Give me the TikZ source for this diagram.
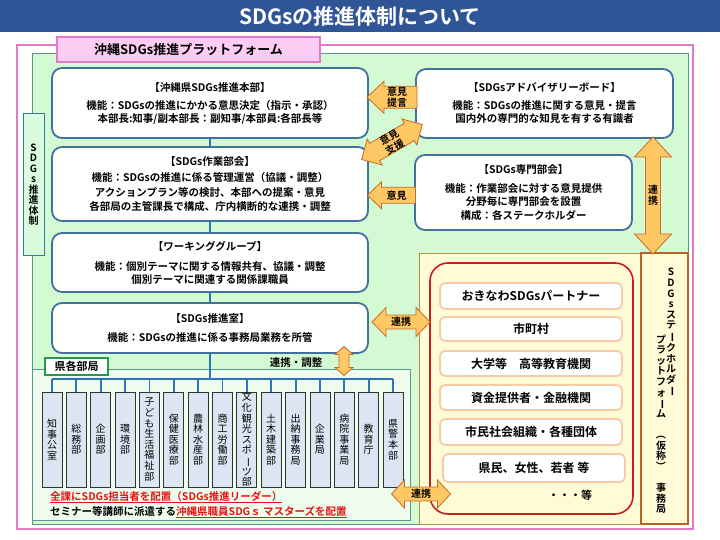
\documentclass[tikz,border=0pt]{standalone}
\usepackage{graphicx}
\usepackage{fontspec}
\setmainfont{Noto Sans CJK JP}[BoldFont={Noto Sans CJK JP Bold}]
\usetikzlibrary{calc}
\definecolor{titleblue}{RGB}{47,85,151}
\definecolor{pinkline}{RGB}{226,122,204}
\definecolor{pinkfill}{RGB}{252,204,242}
\definecolor{bggreen}{RGB}{212,250,212}
\definecolor{bgline}{RGB}{90,150,140}
\definecolor{sidegreen}{RGB}{218,252,222}
\definecolor{sideline}{RGB}{60,120,150}
\definecolor{boxblue}{RGB}{65,113,156}
\definecolor{connblue}{RGB}{46,117,182}
\definecolor{deptfill}{RGB}{220,230,242}
\definecolor{deptarea}{RGB}{238,252,238}
\definecolor{labgreen}{RGB}{40,150,80}
\definecolor{arrfill}{RGB}{255,200,100}
\definecolor{arrline}{RGB}{196,110,40}
\definecolor{shfill}{RGB}{255,251,214}
\definecolor{shline}{RGB}{175,145,70}
\definecolor{brownline}{RGB}{180,100,40}
\definecolor{redline}{RGB}{200,30,30}
\definecolor{peach}{RGB}{246,203,168}
\definecolor{redtext}{RGB}{230,20,20}
\newcommand\vbar{\rotatebox[origin=c]{-90}{ー}}
\newcommand\vlp{\rotatebox[origin=c]{-90}{（}}
\newcommand\vrp{\rotatebox[origin=c]{-90}{）}}
\newcommand\sarrow[6]{\draw[blockarrow, shift={#1}, rotate=#2] (-#3/2,#5/2) -- (#3/2-#6,#5/2) -- (#3/2-#6,#4/2) -- (#3/2,0) -- (#3/2-#6,-#4/2) -- (#3/2-#6,-#5/2) -- (-#3/2,-#5/2) -- cycle;}
\newcommand\darrow[6]{\draw[blockarrow, shift={#1}, rotate=#2] (-#3/2,0) -- (-#3/2+#6,#4/2) -- (-#3/2+#6,#5/2) -- (#3/2-#6,#5/2) -- (#3/2-#6,#4/2) -- (#3/2,0) -- (#3/2-#6,-#4/2) -- (#3/2-#6,-#5/2) -- (-#3/2+#6,-#5/2) -- (-#3/2+#6,-#4/2) -- cycle;}
\tikzset{
  mainbox/.style={draw=boxblue, line width=1.8pt, rounded corners=10pt, fill=white, inner sep=0pt, align=center, font=\bfseries\fontsize{10.5}{13}\selectfont},
  conn/.style={draw=connblue, line width=1.8pt},
  deptbox/.style={draw=black!80, line width=0.9pt, fill=deptfill, minimum width=20pt, minimum height=95pt, inner sep=0pt, align=center, font=\fontsize{10}{10.6}\selectfont},
  blockarrow/.style={fill=arrfill, draw=arrline, line width=0.8pt, line join=miter},
  arrowtext/.style={font=\bfseries\fontsize{10}{11}\selectfont, align=center, inner sep=0pt},
  itembox/.style={draw=peach, line width=1.8pt, rounded corners=5pt, fill=white, minimum width=182pt, inner sep=0pt, font=\bfseries\fontsize{12}{14}\selectfont},
  vcol/.style={align=center, inner sep=0pt, font=\bfseries\fontsize{10}{10.6}\selectfont},
}
\begin{document}
\begin{tikzpicture}[x=1pt,y=-1pt]
\useasboundingbox (0,0) rectangle (720,540);
\fill[white] (0,0) rectangle (720,540);
% title
\fill[titleblue] (0,0) rectangle (720,32);
\node[text=white, font=\bfseries\fontsize{21}{21}\selectfont] (title) at (360,16.5) {SDGsの推進体制について};
% frames
\draw[pinkline, line width=1.8pt] (17,45) rectangle (693,529);
\draw[bgline, line width=0.8pt, fill=bggreen] (32,53) rectangle (688,524);
\node[draw=pinkline, fill=pinkfill, line width=1.5pt, minimum width=263, minimum height=25, inner sep=0pt, font=\bfseries\fontsize{13}{13}\selectfont] (plat) at (188.5,49.5) {沖縄SDGs推進プラットフォーム};
% side label
\node[draw=sideline, fill=sidegreen, line width=1pt, minimum width=21, minimum height=141, inner sep=0pt, align=center, font=\bfseries\fontsize{10}{10.5}\selectfont] (side) at (33.5,184.5) {S\\D\\G\\s\\推\\進\\体\\制};
% department area
\draw[bgline, line width=0.8pt, fill=deptarea] (32,369) rectangle (410,520);
\node[draw=labgreen, line width=1.5pt, fill=white, minimum width=63, minimum height=17, inner sep=0pt, font=\bfseries\fontsize{11}{11}\selectfont] (kenlab) at (76.5,366.5) {県各部局};
% stakeholder area
\draw[shline, line width=0.8pt, fill=shfill] (419,253) rectangle (688,524);
\node[draw=brownline, line width=2pt, fill=shfill, minimum width=47, minimum height=271, inner sep=0pt] (shv) at (664.5,388.5) {};
\node[vcol] (shv1) at (671,332.5) {S\\D\\G\\s\\ス\\テ\\\vbar\\ク\\ホ\\ル\\ダ\\\vbar};
\node[vcol] (shv2) at (661,424) {プ\\ラ\\ッ\\ト\\フ\\ォ\\\vbar\\ム\\\mbox{}\\\vlp\\仮\\称\\\vrp\\\mbox{}\\事\\務\\局};
\node[draw=redline, line width=1.6pt, rounded corners=18pt, minimum width=203, minimum height=251, inner sep=0pt] (redbox) at (531.5,388.5) {};
\node[itembox, minimum height=26] (s1) at (531,296) {おきなわSDGsパートナー};
\node[itembox, minimum height=24] (s2) at (531,329) {市町村};
\node[itembox, minimum height=25] (s3) at (531,363.5) {大学等　高等教育機関};
\node[itembox, minimum height=25] (s4) at (531,397.5) {資金提供者・金融機関};
\node[itembox, minimum height=26] (s5) at (531,432) {市民社会組織・各種団体};
\node[itembox, minimum height=28] (s6) at (534,468) {県民、女性、若者 等};
\node[font=\bfseries\fontsize{11}{11}\selectfont] (etc) at (570,495) {・・・等};
% main boxes
\node[mainbox, minimum width=316, minimum height=70] (hq) at (210,103) {【沖縄県SDGs推進本部】\\[5pt]機能：SDGsの推進にかかる意思決定（指示・承認）\\本部長:知事/副本部長：副知事/本部員:各部長等};
\node[mainbox, minimum width=257, minimum height=69] (adv) at (544.5,103.5) {【SDGsアドバイザリーボード】\\[5pt]機能：SDGsの推進に関する意見・提言\\国内外の専門的な知見を有する有識者};
\node[mainbox, minimum width=316, minimum height=74, font=\bfseries\fontsize{10.5}{14.5}\selectfont] (wk) at (210,184) {【SDGs作業部会】\\[2pt]機能：SDGsの推進に係る管理運営（協議・調整）\\アクションプラン等の検討、本部への提案・意見\\各部局の主管課長で構成、庁内横断的な連携・調整};
\node[mainbox, minimum width=217, minimum height=75, font=\bfseries\fontsize{10.5}{13.5}\selectfont] (sen) at (523.5,192.5) {【SDGs専門部会】\\[5pt]機能：作業部会に対する意見提供\\分野毎に専門部会を設置\\構成：各ステークホルダー};
\node[mainbox, minimum width=316, minimum height=59] (wg) at (210,262.5) {【ワーキンググループ】\\[7pt]機能：個別テーマに関する情報共有、協議・調整\\個別テーマに関連する関係課職員};
\node[mainbox, minimum width=316, minimum height=50] (off) at (210,328) {【SDGs推進室】\\[6pt]機能：SDGsの推進に係る事務局業務を所管};
% vertical connectors
\draw[conn] (hq.south) -- (wk.north);
\draw[conn] (wk.south) -- (wg.north);
\draw[conn] (wg.south) -- (off.north);
% departments
\foreach \n [count=\i from 0] in {{知\\事\\公\\室},{総\\務\\部},{企\\画\\部},{環\\境\\部},{子\\ど\\も\\生\\活\\福\\祉\\部},{保\\健\\医\\療\\部},{農\\林\\水\\産\\部},{商\\工\\労\\働\\部},{文\\化\\観\\光\\ス\\ポ\\\vbar\\ツ\\部},{土\\木\\建\\築\\部},{出\\納\\事\\務\\局},{企\\業\\局},{病\\院\\事\\業\\局},{教\\育\\庁},{県\\警\\本\\部}}
  \node[deptbox] (d\i) at (52+\i*24.36,439.5) {\n};
\coordinate (busj) at (210,379);
\draw[conn] (off.south) -- (busj);
\draw[conn] (d0.north |- busj) -- (d14.north |- busj);
\foreach \i in {0,...,14} \draw[conn] (d\i.north) -- (d\i.north |- busj);
% block arrows
\coordinate (a1) at ($(hq.east)!.5!(adv.west)+(0,-6)$);
\sarrow{(a1)}{180}{50}{32}{22}{17}
\node[arrowtext] (t1) at ($(a1)+(5,0)$) {意見\\提言};
\coordinate (a2) at (392,142);
\darrow{(a2)}{30}{70}{30}{20}{15}
\node[arrowtext, rotate=30] (t2) at (a2) {意見\\支援};
\coordinate (a3) at ($(wk.east)!.5!(sen.west)+(0,7)$);
\sarrow{(a3)}{180}{48}{27}{16}{14}
\node[arrowtext] (t3) at ($(a3)+(5,0)$) {意見};
\coordinate (a4) at (653,195.5);
\darrow{(a4)}{90}{117}{37}{15}{20}
\node[arrowtext] (t4) at (a4) {連\\携};
\coordinate (a5) at (344,361);
\darrow{(a5)}{90}{29}{18}{10}{8}
\node[font=\bfseries\fontsize{10.5}{10.5}\selectfont] (t5) at (296,363) {連携・調整};
\coordinate (a6) at ($(off.east)!.5!(redbox.west |- off.east)+(2,-6)$);
\darrow{(a6)}{0}{58}{29}{14}{14}
\node[arrowtext] (t6) at (a6) {連携};
\coordinate (a7) at (421,494);
\darrow{(a7)}{0}{59}{28}{14}{13}
\node[arrowtext] (t7) at (a7) {連携};
% notes
\node[anchor=west, inner sep=0pt, font=\bfseries\fontsize{10.5}{12}\selectfont] (note1) at (50,497) {\textcolor{redtext}{\underline{全課にSDGs担当者を配置（SDGs推進リーダー）}}};
\node[anchor=west, inner sep=0pt, font=\bfseries\fontsize{10.5}{12}\selectfont] (note2) at (50,512) {セミナー等講師に派遣する\textcolor{redtext}{\underline{沖縄県職員SDGｓ マスターズを配置}}};
\end{tikzpicture}
\end{document}
